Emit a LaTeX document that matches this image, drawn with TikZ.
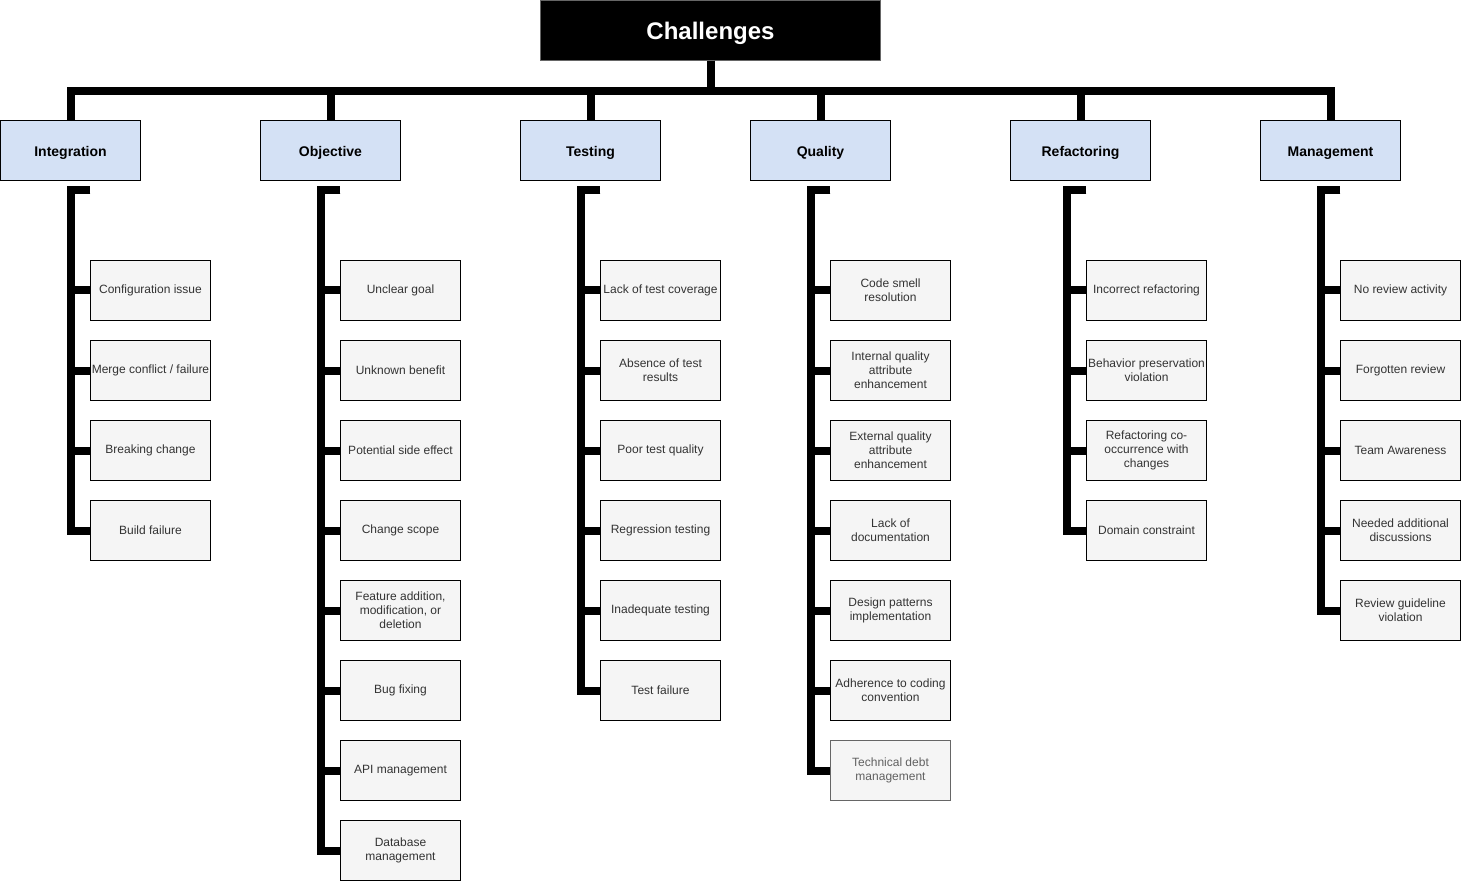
\documentclass[tikz,border=0pt]{standalone}
\usepackage{fontspec}
\setmainfont{Liberation Sans}
\begin{document}
\begin{tikzpicture}[x=1pt,y=-1pt,
  rootbox/.style={draw=black!60, line width=1pt, fill=black, text=white,
    font=\fontsize{24}{28}\selectfont\bfseries, minimum width=340pt, minimum height=60pt,
    inner sep=0pt, text height=23.5pt, text depth=5pt, anchor=north west},
  catbox/.style={draw=black, line width=1pt, fill=catblue, text=black,
    font=\fontsize{14}{16}\selectfont\bfseries, minimum width=140pt, minimum height=60pt,
    inner sep=0pt, text height=14.2pt, text depth=3pt, anchor=north west},
  leaf/.style={draw=black, line width=1pt, fill=leafgray, text=leaftext,
    font=\fontsize{12}{14}\selectfont, align=center, minimum width=120pt,
    minimum height=60pt, inner sep=0pt, anchor=north west},
  leafmuted/.style={leaf, draw=black!60, text=black!62},
  trunk/.style={draw=black, line width=8pt, line join=miter}
]
\definecolor{catblue}{HTML}{D4E1F5}
\definecolor{leafgray}{HTML}{F5F5F5}
\definecolor{leaftext}{HTML}{333333}

\useasboundingbox (0,0) rectangle (1461,882);

% root and categories
\node[rootbox] (root) at (540,0) {Challenges};
\node[catbox] (int) at (0,120)    {Integration};
\node[catbox] (obj) at (260,120)  {Objective};
\node[catbox] (tst) at (520,120)  {Testing};
\node[catbox] (qlt) at (750,120)  {Quality};
\node[catbox] (ref) at (1010,120) {Refactoring};
\node[catbox] (mgt) at (1260,120) {Management};

\foreach \c in {int,obj,tst,qlt,ref,mgt}
  \draw[trunk] (root.south) -- ++(0,30) -| (\c.north);

% a column of leaves hanging from one spine
\newcommand{\leafcolumn}[3]{%
  \coordinate (#1top) at (#2,190);
  \foreach \txt [count=\i] in {#3} {
    \node[leaf] (#1\i) at (#2,180+80*\i) {\txt};
    \draw[trunk] (#1top) -- ++(-19.5,0) |- (#1\i.west);
  }%
}

\leafcolumn{intl}{90}{{Configuration issue},{Merge conflict / failure},{Breaking change},{Build failure}}
\leafcolumn{objl}{340}{{Unclear goal},{Unknown benefit},{Potential side effect},{Change scope},
  {Feature addition,\\ modification, or\\ deletion},{Bug fixing},{API management},{Database\\ management}}
\leafcolumn{tstl}{600}{{Lack of test coverage},{Absence of test\\ results},{Poor test quality},
  {Regression testing},{Inadequate testing},{Test failure}}
\leafcolumn{qltl}{830}{{Code smell\\ resolution},{Internal quality\\ attribute\\ enhancement},
  {External quality\\ attribute\\ enhancement},{Lack of\\ documentation},
  {Design patterns\\ implementation},{Adherence to coding\\ convention}}
\leafcolumn{refl}{1086}{{Incorrect refactoring},{Behavior preservation\\ violation},
  {Refactoring co-\\ occurrence with\\ changes},{Domain constraint}}
\leafcolumn{mgtl}{1340}{{No review activity},{Forgotten review},{Team Awareness},
  {Needed additional\\ discussions},{Review guideline\\ violation}}

% last quality leaf, drawn in a lighter tone
\node[leafmuted] (qltl7) at (830,740) {Technical debt\\ management};
\draw[trunk] (qltltop) -- ++(-19.5,0) |- (qltl7.west);

\end{tikzpicture}
\end{document}
